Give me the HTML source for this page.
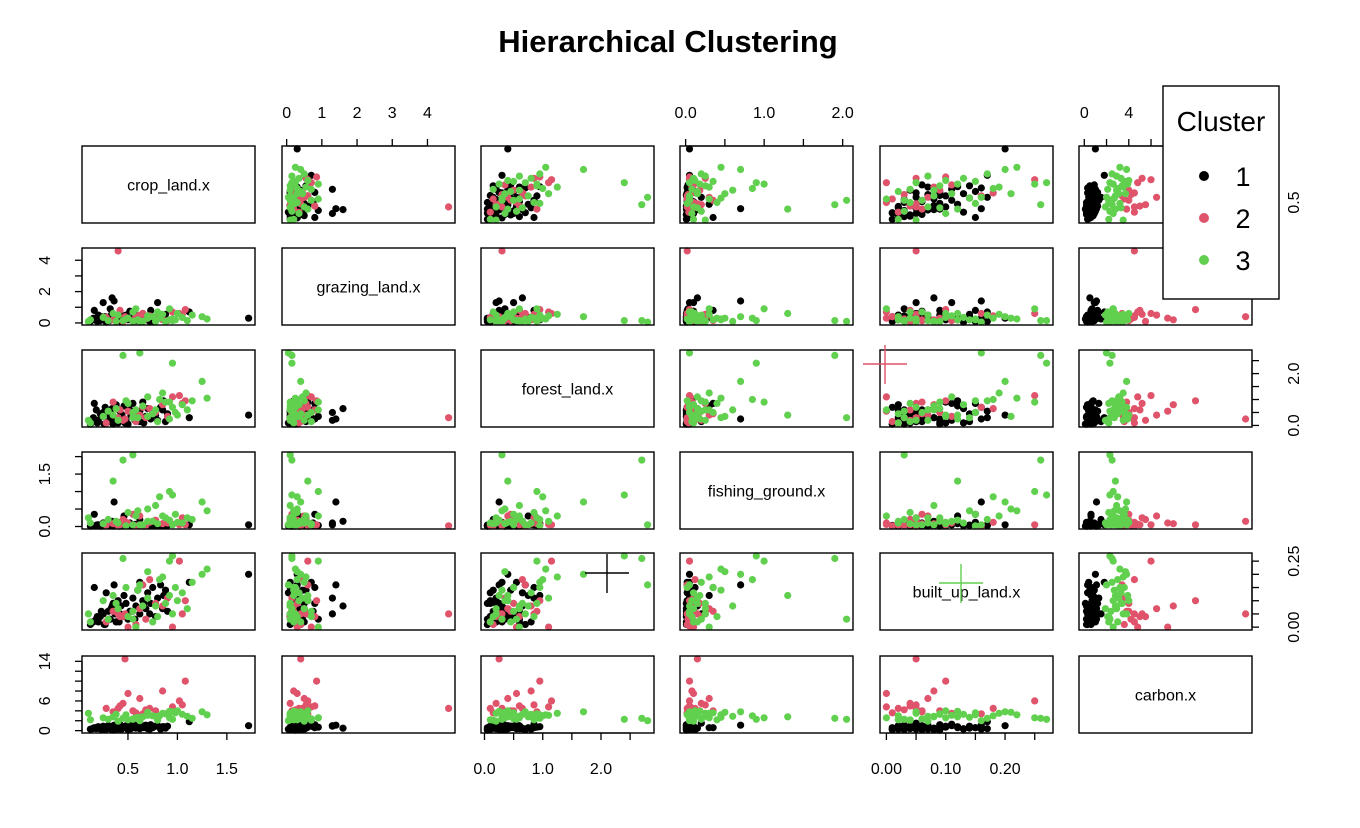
<!DOCTYPE html>
<html><head><meta charset="utf-8"><style>
html,body{margin:0;padding:0;background:#fff;}
svg{display:block;font-family:"Liberation Sans",Arial,sans-serif;}
</style></head><body>
<svg id="chart" width="1360" height="828" viewBox="0 0 1360 828">
<rect width="1360" height="828" fill="#fff"/>
<text x="668" y="52" text-anchor="middle" font-size="31" font-weight="bold">Hierarchical Clustering</text>
</svg>
<script>
const varNames = ["crop_land.x","grazing_land.x","forest_land.x","fishing_ground.x","built_up_land.x","carbon.x"];
const crop    = [0.14,0.19,0.23,0.26,0.31,0.33,0.37,0.41,0.43,0.47,0.53,0.57,0.66,0.72,0.85,
 0.12,0.15,0.18,0.20,0.22,0.25,0.27,0.30,0.32,0.34,0.36,0.38,0.40,0.42,0.44,0.46,0.48,0.50,0.52,0.55,0.58,0.60,0.62,0.65,0.68,0.70,0.73,0.75,0.78,0.80,0.83,0.86,0.88,0.90,1.12,1.72,0.28,0.16,0.35,0.62,
 0.40,0.47,1.08,0.50,0.85,0.62,1.02,0.45,0.28,0.55,0.72,0.95,0.68,0.35,1.05,0.58,0.78,0.42,0.90,0.65,
 0.10,0.12,0.45,0.62,0.35,0.82,1.25,1.30,1.15,0.92,0.98,1.05,0.78,0.70,0.55,0.60,0.88,0.95,1.00,0.50,0.40,0.30,0.25,0.85,0.75,0.65,0.92,1.10,0.48,0.80,0.95,0.58,0.70,0.38,0.55];
const grazing = [0.2,0.1,0.4,0.3,0.15,0.5,0.2,0.35,0.1,0.25,0.3,0.45,0.2,0.1,0.3,
 0.10,0.30,0.20,0.50,0.15,1.30,0.40,0.25,0.90,1.60,1.40,0.30,0.20,0.60,0.10,0.35,0.50,0.20,0.75,0.30,0.15,0.45,0.25,0.60,0.35,0.20,0.80,0.10,0.40,1.30,0.30,0.20,0.55,0.15,0.70,0.30,0.05,0.80,0.25,0.10,
 4.60,0.40,0.85,0.30,0.20,0.50,0.60,0.10,0.35,0.15,0.45,0.70,0.25,0.20,0.55,0.40,0.30,0.80,0.15,0.60,
 0.10,0.20,0.15,0.05,0.60,0.30,0.40,0.25,0.50,0.90,0.20,0.35,0.10,0.45,0.70,0.20,0.10,0.25,0.60,0.30,0.50,0.15,0.35,0.55,0.40,0.10,0.20,0.15,0.25,0.70,0.15,0.90,0.30,0.10,0.10];
const forest  = [0.2,0.1,0.35,0.05,0.5,0.25,0.15,0.6,0.3,0.1,0.4,0.2,0.1,0.3,0.6,
 0.05,0.30,0.60,0.20,0.45,0.50,0.70,0.15,0.35,0.65,0.25,0.80,0.10,0.55,0.40,0.75,0.20,0.05,0.60,0.85,0.30,0.45,0.15,0.90,0.35,0.65,0.25,0.50,0.40,0.20,0.70,0.95,0.15,0.45,0.30,0.40,0.10,0.85,0.05,0.55,
 0.30,0.25,0.95,0.55,0.80,0.40,1.15,0.20,0.10,0.45,0.65,1.10,0.30,0.90,0.85,0.15,0.50,0.60,0.35,0.70,
 0.20,0.10,2.70,2.80,0.40,1.00,1.70,1.05,0.95,0.90,0.50,0.80,0.60,1.10,0.50,0.30,0.90,0.70,0.40,0.85,0.20,0.55,0.35,1.25,0.45,0.75,0.25,0.60,0.95,0.15,2.40,0.60,0.35,0.65,0.30];
const fishing = [0.02,0.05,0.01,0.03,0.08,0.02,0.04,0.01,0.12,0.03,0.02,0.06,0.01,0.04,0.02,
 0.01,0.02,0.03,0.05,0.01,0.10,0.02,0.04,0.03,0.15,0.70,0.06,0.02,0.01,0.08,0.30,0.02,0.04,0.10,0.05,0.02,0.03,0.20,0.04,0.01,0.06,0.02,0.12,0.03,0.05,0.02,0.08,0.04,0.03,0.05,0.05,0.02,0.35,0.01,0.02,
 0.02,0.15,0.05,0.10,0.08,0.30,0.05,0.20,0.04,0.35,0.12,0.06,0.03,0.08,0.25,0.02,0.18,0.05,0.10,0.02,
 0.25,0.10,1.90,0.05,1.30,0.85,0.70,0.45,0.20,1.00,0.35,0.10,0.60,0.15,0.05,0.45,0.25,0.05,0.12,0.40,0.10,0.20,0.08,0.30,0.15,0.05,0.18,0.25,0.02,0.08,0.90,0.30,0.50,0.15,2.05];
const built   = [0.02,0.04,0.06,0.01,0.03,0.07,0.05,0.02,0.08,0.04,0.06,0.03,0.09,0.05,0.07,
 0.01,0.02,0.03,0.02,0.04,0.05,0.01,0.06,0.03,0.08,0.16,0.02,0.10,0.05,0.04,0.12,0.09,0.03,0.06,0.11,0.08,0.14,0.05,0.10,0.07,0.13,0.09,0.15,0.04,0.11,0.16,0.12,0.14,0.06,0.17,0.20,0.13,0.15,0.09,0.17,
 0.05,0.05,0.10,0.00,0.08,0.07,0.25,0.04,0.02,0.06,0.18,0.00,0.03,0.06,0.05,0.01,0.09,0.04,0.11,0.16,
 0.05,0.02,0.26,0.16,0.12,0.18,0.20,0.22,0.17,0.25,0.15,0.13,0.08,0.11,0.06,0.14,0.09,0.05,0.10,0.04,0.07,0.03,0.10,0.19,0.02,0.08,0.12,0.07,0.15,0.04,0.27,0.00,0.21,0.09,0.03];
const carbon  = [0.4,0.7,0.2,0.6,0.9,0.3,0.5,1.0,0.2,0.7,0.4,1.1,0.6,0.3,0.8,
 0.3,0.5,0.4,0.8,0.6,0.9,0.2,1.0,0.7,0.5,1.1,0.3,0.9,1.2,0.4,0.6,1.0,0.2,0.8,1.3,0.5,0.9,1.5,0.7,1.1,0.4,1.2,0.6,0.9,1.0,0.3,0.8,0.5,0.9,1.8,1.0,0.3,0.6,0.1,0.4,
 4.5,14.5,10.0,7.5,8.0,6.5,6.0,5.5,4.5,4.0,4.5,4.8,4.2,3.8,5.2,3.6,4.0,5.0,3.5,3.4,
 3.5,2.2,2.5,2.0,2.8,3.0,3.8,3.2,2.5,2.6,3.6,3.3,2.9,3.1,2.4,2.7,3.4,3.8,4.0,2.2,1.9,2.3,2.6,3.5,3.0,2.8,3.9,2.9,3.2,2.1,2.3,2.6,3.7,3.3,2.3];
const cluster = [1,1,1,1,1,1,1,1,1,1,1,1,1,1,1,
 1,1,1,1,1,1,1,1,1,1,1,1,1,1,1,1,1,1,1,1,1,1,1,1,1,1,1,1,1,1,1,1,1,1,1,1,1,1,1,1,
 2,2,2,2,2,2,2,2,2,2,2,2,2,2,2,2,2,2,2,2,
 3,3,3,3,3,3,3,3,3,3,3,3,3,3,3,3,3,3,3,3,3,3,3,3,3,3,3,3,3,3,3,3,3,3,3];
const clusterLabels = ["1","2","3"];
const tickVals = [[0.5,1.0,1.5],[0,1,2,3,4],[0,0.5,1,1.5,2,2.5],[0,0.5,1,1.5,2],[0,0.05,0.1,0.15,0.2,0.25],[0,2,4,6,8,10,12,14]];
const tickTop   = [[], ["0","1","2","3","4"], [], ["0.0","","1.0","","2.0"], [], ["0","","4","","","","",""]];
const tickBot   = [["0.5","1.0","1.5"], [], ["0.0","","1.0","","2.0",""], [], ["0.00","","0.10","","0.20",""], []];
const tickLeft  = [[], ["0","","2","","4"], [], ["0.0","","","1.5",""], [], ["0","","","6","","","","14"]];
const tickRight = [["0.5","",""], [], ["0.0","","","","2.0",""], [], ["0.00","","","","","0.25"], []];

const vars = [crop,grazing,forest,fishing,built,carbon];
const colors = {1:"#000000",2:"#DF536B",3:"#61D04F"};
const svg = document.getElementById('chart');
const NS = "http://www.w3.org/2000/svg";
const colL = [82,282,481,680,880,1079], rowT = [146,248,350,452,553,656], PW = 173, PH = 77;
function mk(tag, attrs, parent){const e=document.createElementNS(NS,tag);for(const k in attrs)e.setAttribute(k,attrs[k]);(parent||svg).appendChild(e);return e;}
const ranges = vars.map(v=>{const mn=Math.min(...v),mx=Math.max(...v),p=(mx-mn)*0.04;return [mn-p,mx+p];});
function sx(j,val){const r=ranges[j];return colL[j]+(val-r[0])/(r[1]-r[0])*PW;}
function sy(i,val){const r=ranges[i];return rowT[i]+PH-(val-r[0])/(r[1]-r[0])*PH;}

for(let i=0;i<6;i++){for(let j=0;j<6;j++){
  const g=mk('g',{});
  
  
  if(i===j){
    const t=mk('text',{x:colL[j]+PW/2,y:rowT[i]+PH/2+6,'text-anchor':'middle','font-size':'16'},g);
    t.textContent=varNames[i];
    
    
  } else {
    for(let k=0;k<cluster.length;k++){
      const c=mk('circle',{cx:sx(j,vars[j][k]).toFixed(1),cy:sy(i,vars[i][k]).toFixed(1),r:3.6,fill:colors[cluster[k]]},g);
      
      
    }
  }
  mk('rect',{x:colL[j],y:rowT[i],width:PW,height:PH,fill:'none',stroke:'#000','stroke-width':1.4},g);
}}

function axis(side, idx){
  const g=mk('g',{stroke:'#000','stroke-width':1.3});
  
  
  const vals=tickVals[idx];
  const labs={top:tickTop,bottom:tickBot,left:tickLeft,right:tickRight}[side][idx];
  if(side==='top'||side==='bottom'){
    const y0= side==='top'?rowT[0]:rowT[5]+PH, d= side==='top'?-7:7;
    const xs=vals.map(v=>sx(idx,v));
    mk('line',{x1:xs[0],x2:xs[xs.length-1],y1:y0,y2:y0},g);
    vals.forEach((v,n)=>{
      mk('line',{x1:xs[n],x2:xs[n],y1:y0,y2:y0+d},g);
      if(labs[n]){const t=mk('text',{x:xs[n],y:side==='top'?y0-28:y0+41,'text-anchor':'middle','font-size':'16',stroke:'none',fill:'#000'},g);t.textContent=labs[n];
        }
    });
  } else {
    const x0= side==='left'?colL[0]:colL[5]+PW, d= side==='left'?-7:7;
    const ys=vals.map(v=>sy(idx,v));
    mk('line',{x1:x0,x2:x0,y1:ys[0],y2:ys[ys.length-1]},g);
    vals.forEach((v,n)=>{
      mk('line',{x1:x0,x2:x0+d,y1:ys[n],y2:ys[n]},g);
      if(labs[n]){const tx= side==='left'?x0-32:x0+47;
        const t=mk('text',{x:tx,y:ys[n],'text-anchor':'middle','font-size':'16',stroke:'none',fill:'#000',transform:`rotate(-90 ${tx} ${ys[n]})`},g);t.textContent=labs[n];
        }
    });
  }
}
[1,3,5].forEach(j=>axis('top',j));
[0,2,4].forEach(j=>axis('bottom',j));
[1,3,5].forEach(i=>axis('left',i));
[0,2,4].forEach(i=>axis('right',i));

[[885,364,"#DF536B"],[607,573,"#000"],[961,583,"#61D04F"]].forEach(c=>{
  const g=mk('g',{stroke:c[2],'stroke-width':1.4});
  
  
  mk('line',{x1:c[0]-22,x2:c[0]+22,y1:c[1],y2:c[1]},g);
  mk('line',{x1:c[0],x2:c[0],y1:c[1]-19,y2:c[1]+20},g);
});

const lg=mk('g',{});


mk('rect',{x:1163,y:86,width:116,height:213,fill:'#fff',stroke:'#000','stroke-width':1.4},lg);
const lt=mk('text',{x:1221,y:131,'text-anchor':'middle','font-size':'28'},lg);
lt.textContent='Cluster';


clusterLabels.forEach((l,n)=>{
  const y=176+n*42;
  const e=mk('g',{},lg);
  
  
  mk('circle',{cx:1204,cy:y,r:5,fill:colors[+l]},e);
  const t=mk('text',{x:1243,y:y+10,'text-anchor':'middle','font-size':'27'},e);
  t.textContent=l;
});
</script>
</body></html>
